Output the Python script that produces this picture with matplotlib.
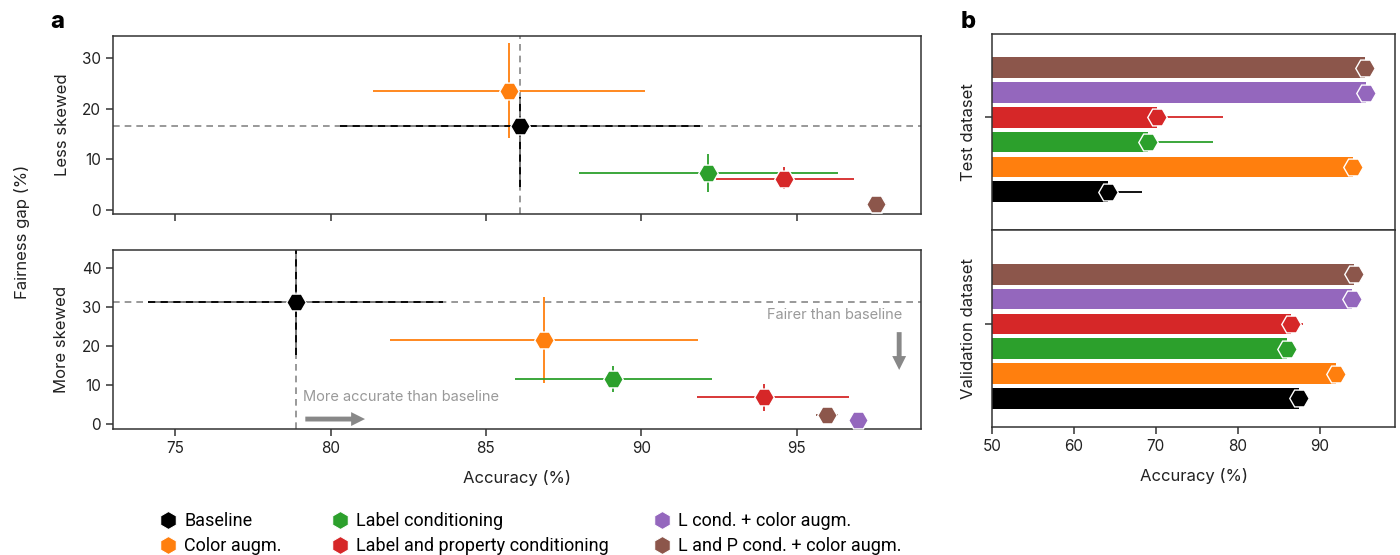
import matplotlib
matplotlib.use("Agg")
import matplotlib.pyplot as plt
from matplotlib.lines import Line2D
import numpy as np

plt.rcParams['font.family'] = ['Inter', 'DejaVu Sans']

# ---------------- data ----------------
methods = ["Baseline", "Color augm.", "Label conditioning",
           "Label and property conditioning", "L cond. + color augm.",
           "L and P cond. + color augm."]
colors = ["#000000", "#ff7f0e", "#2ca02c", "#d62728", "#9467bd", "#8c564b"]

# panel a, top (less skewed)
less_acc = [86.10, 85.74, 92.16, 94.59, 97.59, 97.56]
less_acc_lo = [80.3, 81.36, 88.0, 92.42, 97.59, 97.56]
less_acc_hi = [91.9, 90.12, 96.34, 96.84, 97.59, 97.56]
less_gap = [16.5, 23.5, 7.3, 6.2, 1.15, 1.25]
less_gap_lo = [4.6, 14.1, 3.5, 4.1, 1.15, 1.25]
less_gap_hi = [22.3, 32.9, 11.0, 8.4, 1.15, 1.25]

# panel a, bottom (more skewed)
more_acc = [78.88, 86.87, 89.08, 93.96, 96.97, 95.97]
more_acc_lo = [74.14, 81.91, 85.93, 91.80, 96.97, 95.63]
more_acc_hi = [83.63, 91.84, 92.27, 96.69, 96.97, 96.34]
more_gap = [31.3, 21.6, 11.7, 7.0, 1.2, 2.3]
more_gap_lo = [17.7, 10.5, 8.2, 3.5, 1.2, 2.3]
more_gap_hi = [44.9, 32.6, 14.9, 10.3, 1.2, 2.3]

# panel b
test_acc = [64.2, 94.0, 69.1, 70.1, 95.6, 95.5]
test_err = [4.1, 0.0, 7.9, 8.1, 0.0, 0.0]
val_acc = [87.4, 92.0, 86.0, 86.5, 93.9, 94.2]
val_err = [1.3, 0.0, 0.0, 1.4, 0.0, 0.0]

a_xticks = [75, 80, 85, 90, 95]
less_yticks = [0, 10, 20, 30]
more_yticks = [0, 10, 20, 30, 40]
b_xticks = [50, 60, 70, 80, 90]

TXT = "#222222"
SPINE = "#333333"
DASH = (0, (4, 3))

fig = plt.figure(figsize=(14, 5.55), dpi=100)

ax_t = fig.add_axes([0.0807, 0.6144, 0.5771, 0.3207])
ax_m = fig.add_axes([0.0807, 0.2270, 0.5771, 0.3225])
bx_t = fig.add_axes([0.7084, 0.5856, 0.2883, 0.3532])
bx_v = fig.add_axes([0.7084, 0.2301, 0.2883, 0.3555])


def style(ax):
    for s in ax.spines.values():
        s.set_color(SPINE)
        s.set_linewidth(1.1)
    ax.tick_params(colors=SPINE, labelcolor=TXT, labelsize=11, length=5, width=1.1)


def scatter_panel(ax, acc, lo, hi, gap, glo, ghi, ylim, yticks):
    style(ax)
    ax.set_xlim(73, 99)
    ax.set_ylim(*ylim)
    ax.set_xticks(a_xticks)
    ax.set_yticks(yticks)
    # reference dashed lines through baseline
    ax.axhline(gap[0], color="#888888", ls=DASH, lw=1.2, zorder=1)
    ax.axvline(acc[0], color="#888888", ls=DASH, lw=1.2, zorder=1)
    for i in range(len(acc)):
        xe = [[acc[i] - lo[i]], [hi[i] - acc[i]]]
        ye = [[gap[i] - glo[i]], [ghi[i] - gap[i]]]
        if i == 0:
            ax.errorbar(acc[i], gap[i], xerr=xe, yerr=ye, fmt="none",
                        ecolor="#777777", elinewidth=1.3, zorder=2)
            eb = ax.errorbar(acc[i], gap[i], xerr=xe, yerr=ye, fmt="none",
                             ecolor="black", elinewidth=1.3, zorder=2.5)
            for lc in eb[2]:
                lc.set_linestyle(DASH)
        else:
            ax.errorbar(acc[i], gap[i], xerr=xe, yerr=ye, fmt="none",
                        ecolor=colors[i], elinewidth=1.3, zorder=2)
        ax.plot(acc[i], gap[i], marker="H", ms=14, color=colors[i],
                mec="white", mew=1.0, ls="none", zorder=3 + i)


scatter_panel(ax_t, less_acc, less_acc_lo, less_acc_hi, less_gap,
              less_gap_lo, less_gap_hi, (-0.8, 34.3), less_yticks)
ax_t.set_xticklabels([])
scatter_panel(ax_m, more_acc, more_acc_lo, more_acc_hi, more_gap,
              more_gap_lo, more_gap_hi, (-1.2, 44.6), more_yticks)
ax_m.set_xlabel("Accuracy (%)", fontsize=12, color=TXT, labelpad=10)
ax_t.set_ylabel("Less skewed", fontsize=12, color=TXT, labelpad=9)
ax_m.set_ylabel("More skewed", fontsize=12, color=TXT, labelpad=9)

# annotations
arrow_style = "simple,head_width=1.0,head_length=1.0,tail_width=0.35"
ax_m.text(79.1, 7.1, "More accurate than baseline", color="#999999",
          fontsize=10.5, ha="left", va="center")
ax_m.annotate("", xy=(81.2, 1.35), xytext=(79.1, 1.35),
              arrowprops=dict(arrowstyle=arrow_style, color="#888888", lw=0))
ax_m.text(98.4, 28.0, "Fairer than baseline", color="#999999",
          fontsize=10.5, ha="right", va="center")
ax_m.annotate("", xy=(98.3, 13.2), xytext=(98.3, 24.3),
              arrowprops=dict(arrowstyle=arrow_style, color="#888888", lw=0))

fig.text(0.0155, (0.6144 + 0.3207 / 2 + 0.2270 + 0.3225 / 2) / 2, "Fairness gap (%)",
         rotation=90, fontsize=12, color=TXT, ha="center", va="center")


def bar_panel(ax, acc, err, ylim, label):
    style(ax)
    y = np.arange(len(acc))
    ax.set_xlim(50, 99.2)
    ax.set_ylim(*ylim)
    for i in range(len(acc)):
        if err[i] > 0:
            ax.errorbar(acc[i], y[i], xerr=err[i], fmt="none", ecolor=colors[i],
                        elinewidth=1.3, zorder=1)
    ax.barh(y, acc, height=0.83, color=colors, zorder=2, left=0)
    for i in range(len(acc)):
        ax.plot(acc[i], y[i], marker="H", ms=14, color=colors[i], mec="white",
                mew=1.0, ls="none", zorder=3)
    ax.set_yticks([3])
    ax.set_yticklabels([])
    ax.set_ylabel(label, fontsize=12, color=TXT, labelpad=3)
    ax.set_xticks(b_xticks)


bar_panel(bx_t, test_acc, test_err, (-1.54, 6.36), "Test dataset")
bx_t.tick_params(axis="x", length=0, labelbottom=False)
bar_panel(bx_v, val_acc, val_err, (-1.17, 6.79), "Validation dataset")
bx_v.set_xlabel("Accuracy (%)", fontsize=12, color=TXT, labelpad=10)

fig.text(0.036, 0.96, "a", fontsize=17, fontweight="heavy", ha="left", va="center")
fig.text(0.686, 0.96, "b", fontsize=17, fontweight="heavy", ha="left", va="center")

# legend: three columns
cols = [[0, 1], [2, 3], [4, 5]]
xs = [0.107, 0.230, 0.460]
for c, x0 in zip(cols, xs):
    handles = [Line2D([], [], marker="h", ms=13, color=colors[i], mec="white",
                      mew=0.8, ls="none") for i in c]
    fig.legend(handles, [methods[i] for i in c], loc="upper left",
               bbox_to_anchor=(x0, 0.090), frameon=False,
               handletextpad=0.3, labelspacing=0.4, borderaxespad=0,
               handlelength=1.2, prop={"family": ["Roboto", "DejaVu Sans"], "size": 13})

fig.savefig("out.png", dpi=100)
